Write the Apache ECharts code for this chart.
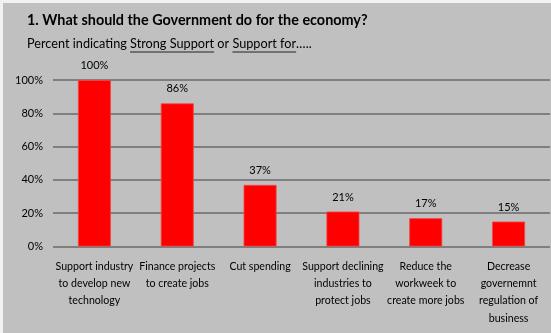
<!DOCTYPE html>
<html>
<head>
<meta charset="utf-8">
<script src="https://cdn.jsdelivr.net/npm/echarts@6/dist/echarts.min.js"></script>
<style>
  html, body { margin: 0; padding: 0; background: #f2f2f2; }
  #chart { position: absolute; left: 3px; top: 3px; width: 548px; height: 330px; }
</style>
</head>
<body>
<div id="chart"></div>
<script>
// Survey answers: share of respondents backing each policy
const categories = [
  'Support industry\nto develop new\ntechnology',
  'Finance projects\nto create jobs',
  'Cut spending',
  'Support declining\nindustries to\nprotect jobs',
  'Reduce the\nworkweek to\ncreate more jobs',
  'Decrease\ngovernemnt\nregulation of\nbusiness'
];
const supportPercent = [100, 86, 37, 21, 17, 15];
const yTicks = [0, 20, 40, 60, 80, 100];

const titleText = '1. What should the Government do for the economy?';
// Subtitle pieces; underlined ones flagged
const subtitleParts = [
  { text: 'Percent indicating ', u: false },
  { text: 'Strong Support', u: true },
  { text: ' or ', u: false },
  { text: 'Support for', u: true },
  { text: '…..', u: false }
];

const FONT = 'Lato, "Noto Sans", sans-serif';
const subFontSize = 12.7;

// measure text widths to lay out the subtitle and its underlines
const ctx = document.createElement('canvas').getContext('2d');
ctx.font = subFontSize + 'px ' + FONT;

const subX = 24, subY = 42;
const subtitleGraphics = [];
let cursor = subX;
subtitleParts.forEach(p => {
  const w = ctx.measureText(p.text).width;
  subtitleGraphics.push({
    type: 'text', left: cursor, top: subY - subFontSize / 2 - 1,
    style: { text: p.text, fill: '#000', font: subFontSize + 'px ' + FONT }
  });
  if (p.u) {
    subtitleGraphics.push({
      type: 'line',
      shape: { x1: cursor, y1: subY + 7, x2: cursor + w, y2: subY + 7 },
      style: { stroke: '#222', lineWidth: 1 }
    });
  }
  cursor += w;
});

const chart = echarts.init(document.getElementById('chart'));
chart.setOption({
  backgroundColor: '#c0c0c0',
  animation: false,
  title: {
    text: titleText,
    left: 24, top: 10, padding: 0,
    textStyle: { fontFamily: FONT, fontWeight: 'bold', fontSize: 14.4, color: '#000' }
  },
  graphic: subtitleGraphics,
  grid: { left: 50, right: 1, top: 77, bottom: 86.5 },
  xAxis: {
    type: 'category',
    data: categories,
    axisLine: { show: false },
    axisTick: { show: false },
    axisLabel: {
      interval: 0, margin: 11, color: '#000',
      fontFamily: FONT, fontSize: 10.6, lineHeight: 17.4
    }
  },
  yAxis: {
    type: 'value',
    min: yTicks[0], max: yTicks[yTicks.length - 1], interval: 20,
    axisLine: { show: false },
    axisTick: { show: false },
    axisLabel: {
      margin: 10, color: '#000', fontFamily: FONT, fontSize: 11,
      formatter: v => v + '%'
    },
    splitLine: { lineStyle: { color: '#7f7f7f', width: 2 } }
  },
  series: [{
    type: 'bar',
    data: supportPercent,
    barWidth: 33,
    itemStyle: { color: '#ff0000', borderColor: '#f24a4a', borderWidth: 0.8 },
    label: {
      show: true, position: 'top', distance: 9,
      color: '#000', fontFamily: FONT, fontSize: 11,
      formatter: p => p.value + '%'
    }
  }]
});
</script>
</body>
</html>
